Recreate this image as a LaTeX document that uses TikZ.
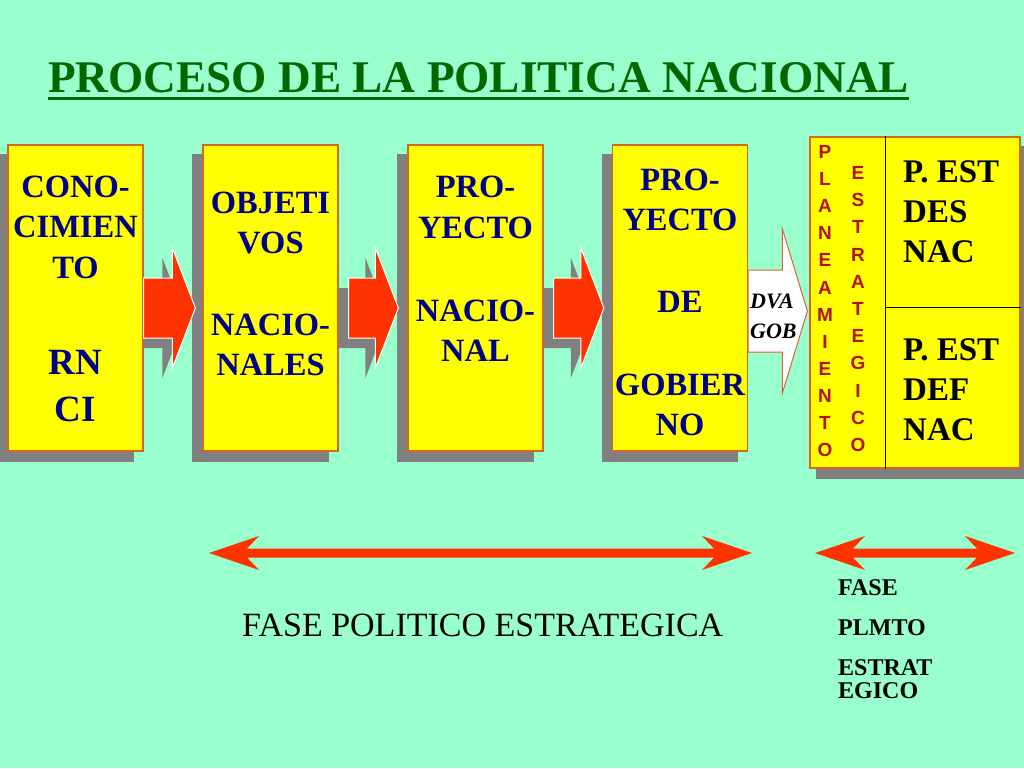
\documentclass[tikz,border=0pt]{standalone}
\usepackage{fontspec}
\setmainfont{Liberation Serif}
\newfontfamily\arialf{Liberation Sans}
\usetikzlibrary{calc}
\definecolor{bg}{HTML}{99FFCC}
\definecolor{boxyellow}{HTML}{FFFF00}
\definecolor{boxedge}{HTML}{D2691E}
\definecolor{shadowgray}{HTML}{808080}
\definecolor{arrred}{HTML}{FF3300}
\definecolor{navy}{HTML}{000080}
\definecolor{titlegreen}{HTML}{006600}
\definecolor{vred}{HTML}{B31020}
\definecolor{wedge}{HTML}{E0603A}
\newcommand\fsz[1]{\fontsize{#1}{#1}\selectfont}
% #1 style, #2 start, #3 tip, #4 body half, #5 head half, #6 head length
\newcommand\blockarrow[6]{%
  \path[#1] let \p1=(#2), \p2=(#3) in
    (\x1,\y2+#4) -- (\x2-#6,\y2+#4) -- (\x2-#6,\y2+#5) -- (\x2,\y2)
    -- (\x2-#6,\y2-#5) -- (\x2-#6,\y2-#4) -- (\x1,\y2-#4) -- cycle;}
\newcommand\dblarrow[2]{%
  \fill[arrred] let \p1=(#1), \p2=(#2) in
    (\p1) -- (\x1+50pt,\y1+17pt) -- (\x1+38pt,\y1+4.5pt) -- (\x2-38pt,\y2+4.5pt)
    -- (\x2-50pt,\y2+17pt) -- (\p2) -- (\x2-50pt,\y2-17pt) -- (\x2-38pt,\y2-4.5pt)
    -- (\x1+38pt,\y1-4.5pt) -- (\x1+50pt,\y1-17pt) -- cycle;}
\tikzset{
  box/.style={draw=boxedge, line width=1.2pt, fill=boxyellow, inner sep=0pt,
    minimum width=135pt, minimum height=306pt},
  btxt/.style={anchor=base, inner sep=0pt, text=navy, font=\fsz{32.5}\bfseries},
  bigtxt/.style={btxt, font=\fsz{37}\bfseries},
  rtxt/.style={anchor=base west, inner sep=0pt, text=black, font=\fsz{33}\bfseries},
  vlet/.style={inner sep=0pt, text=vred, font=\arialf\fsz{19}\bfseries},
  dtxt/.style={anchor=base west, inner sep=0pt, text=black, font=\fsz{22}\bfseries\itshape},
  ftxt/.style={anchor=base west, inner sep=0pt, text=black, font=\fsz{24}\bfseries},
  shadowfill/.style={fill=shadowgray}
}
\begin{document}
\begin{tikzpicture}[x=1pt,y=-1pt]
\fill[bg] (0,0) rectangle (1024,768);
\useasboundingbox (0,0) rectangle (1024,768);

% title
\node[anchor=base west, inner sep=0pt, font=\fsz{45.3}\bfseries, text=titlegreen] (title) at (48,92) {PROCESO DE LA POLITICA NACIONAL};
\draw[titlegreen, line width=3pt] ($(title.base west)+(0,6)$) -- ($(title.base east)+(0,6)$);

% box positions (invisible first to get anchors)
\path (75.5,298) node[box, draw=none, fill=none] (b1) {}
      (270.5,298) node[box, draw=none, fill=none] (b2) {}
      (475.5,298) node[box, draw=none, fill=none] (b3) {}
      (680,298) node[box, draw=none, fill=none] (b4) {}
      (915,302.5) node[box, draw=none, fill=none, minimum width=210pt, minimum height=331pt] (rp) {};

% box shadows
\foreach \b in {b1,b2,b3,b4}
  \fill[shadowfill] ($(\b.south west)+(-10,10)$) rectangle ($(\b.north east)+(-10,10)$);
\fill[shadowfill] ($(rp.south west)+(7,10)$) rectangle ($(rp.north east)+(7,10)$);

% connector coordinates
\coordinate (a1s) at (b1.east |- 0,308);
\coordinate (a1t) at ($(b2.west |- 0,308)+(-7,0)$);
\coordinate (a2s) at ($(b2.east |- 0,308)+(10,0)$);
\coordinate (a2t) at ($(b3.west |- 0,308)+(-9,0)$);
\coordinate (a3s) at ($(b3.east |- 0,308)+(10,0)$);
\coordinate (a3t) at ($(b4.west |- 0,308)+(-8,0)$);
\coordinate (a4s) at (b4.east |- 0,311);
\coordinate (a4t) at ($(rp.west |- 0,311)+(-2,0)$);
% shadow copies of connector ends
\foreach \c in {a1s,a1t,a2s,a2t,a3s,a3t}
  \coordinate (\c x) at ($(\c)+(-10,10)$);

% arrow shadows
\foreach \s/\t in {a1sx/a1tx,a2sx/a2tx,a3sx/a3tx}
  \blockarrow{fill=shadowgray}{\s}{\t}{30pt}{60pt}{23pt};

% boxes
\node[box] (B1) at (b1) {};
\node[box] (B2) at (b2) {};
\node[box] (B3) at (b3) {};
\node[box] (B4) at (b4) {};
\node[box, minimum width=210pt, minimum height=331pt] (RP) at (rp) {};
\draw[black, line width=1pt] (rp.north -| 885,0) -- (rp.south -| 885,0);
\draw[black, line width=1pt] (885,307) -- (rp.east |- 0,307);

% red block arrows
\foreach \s/\t in {a1s/a1t,a2s/a2t,a3s/a3t}
  \blockarrow{fill=arrred, draw=white, line width=1pt}{\s}{\t}{30pt}{60pt}{23pt};
% white block arrow
\blockarrow{fill=white, draw=wedge, line width=1pt}{a4s}{a4t}{41pt}{82pt}{25pt};

% box 1 text
\node[btxt] (t1a) at (b1.center |- 0,197) {CONO-};
\node[btxt] (t1b) at (b1.center |- 0,237) {CIMIEN};
\node[btxt] (t1c) at (b1.center |- 0,278) {TO};
\node[bigtxt] (t1d) at (b1.center |- 0,374) {RN};
\node[bigtxt] (t1e) at (b1.center |- 0,421) {CI};
% box 2 text
\node[btxt] (t2a) at (b2.center |- 0,213) {OBJETI};
\node[btxt] (t2b) at (b2.center |- 0,253) {VOS};
\node[btxt] (t2c) at (b2.center |- 0,335) {NACIO-};
\node[btxt] (t2d) at (b2.center |- 0,375) {NALES};
% box 3 text
\node[btxt] (t3a) at (b3.center |- 0,197) {PRO-};
\node[btxt] (t3b) at (b3.center |- 0,238) {YECTO};
\node[btxt] (t3c) at (b3.center |- 0,321) {NACIO-};
\node[btxt] (t3d) at (b3.center |- 0,361) {NAL};
% box 4 text
\node[btxt] (t4a) at (b4.center |- 0,190) {PRO-};
\node[btxt] (t4b) at (b4.center |- 0,230) {YECTO};
\node[btxt] (t4c) at (b4.center |- 0,312) {DE};
\node[btxt] (t4d) at (b4.center |- 0,395) {GOBIER};
\node[btxt] (t4e) at (b4.center |- 0,435) {NO};

% DVA GOB
\node[dtxt] (dva) at (750,308) {DVA};
\node[dtxt] (gob) at (750,338) {GOB};

% vertical words
\foreach \ch [count=\i from 0] in {P,L,A,N,E,A,M,I,E,N,T,O}
  \node[vlet] (pl\i) at (825,{152+27.1*\i}) {\ch};
\foreach \ch [count=\i from 0] in {E,S,T,R,A,T,E,G,I,C,O}
  \node[vlet] (es\i) at (858,{173+27.2*\i}) {\ch};

% right texts
\node[rtxt] (r1) at (903,182) {P. EST};
\node[rtxt] (r2) at (903,222) {DES};
\node[rtxt] (r3) at (903,262) {NAC};
\node[rtxt] (r4) at (903,360) {P. EST};
\node[rtxt] (r5) at (903,400) {DEF};
\node[rtxt] (r6) at (903,440) {NAC};

% double arrows
\coordinate (L1) at (209,553);
\coordinate (R1) at (752,553);
\coordinate (L2) at (815,553);
\coordinate (R2) at (1015,553);
\dblarrow{L1}{R1}
\dblarrow{L2}{R2}

% bottom labels
\node[anchor=base west, inner sep=0pt, font=\fsz{34}] (fpe) at (242,636) {FASE POLITICO ESTRATEGICA};
\node[ftxt] (f1) at (838,595) {FASE};
\node[ftxt] (f2) at (838,635) {PLMTO};
\node[ftxt] (f3) at (838,675) {ESTRAT};
\node[ftxt] (f4) at (838,698) {EGICO};
\end{tikzpicture}
\end{document}
